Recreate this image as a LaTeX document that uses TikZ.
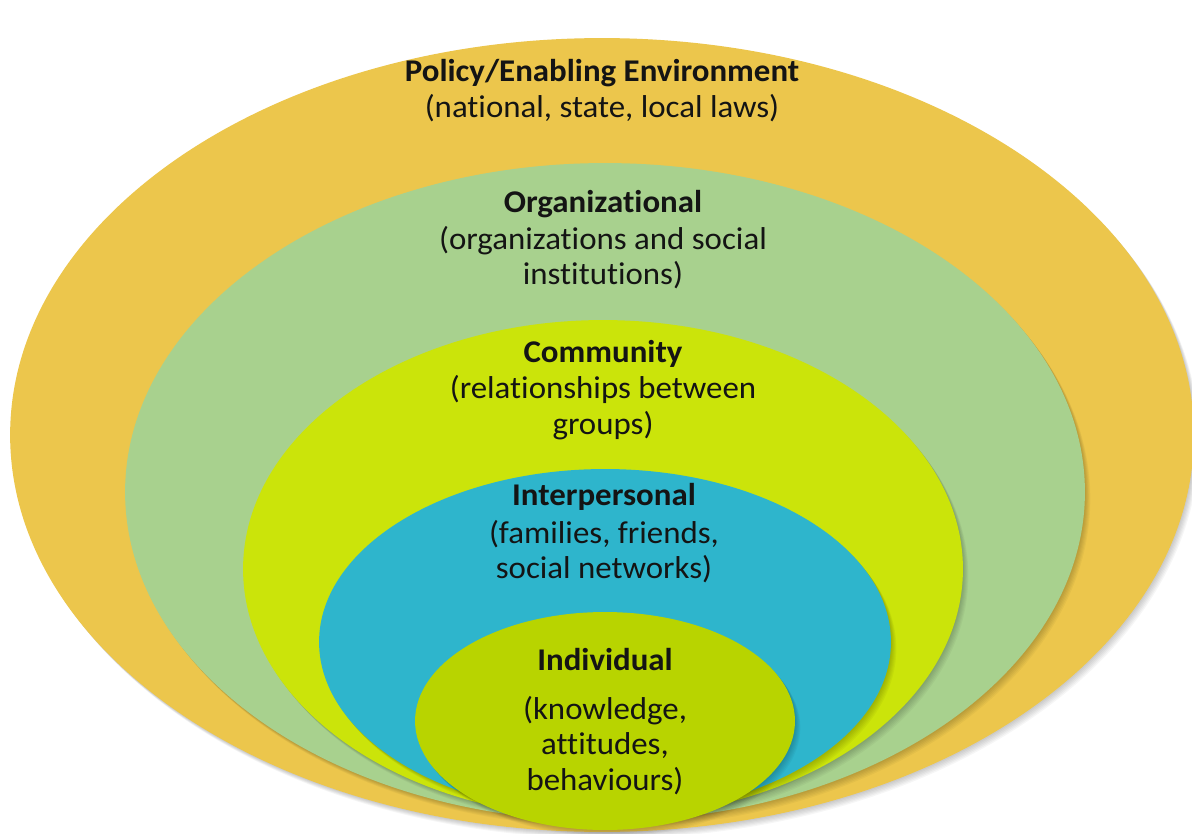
\documentclass[tikz,border=0pt]{standalone}
\usepackage{fontspec}
\setmainfont{Carlito}[FakeStretch=1.04,Ligatures=NoCommon]
\usetikzlibrary{calc}
\definecolor{cPolicy}{RGB}{236,198,76}
\definecolor{cOrg}{RGB}{168,209,142}
\definecolor{cComm}{RGB}{203,228,10}
\definecolor{cInter}{RGB}{46,181,204}
\definecolor{cIndiv}{RGB}{184,212,0}
\definecolor{cText}{RGB}{20,20,20}
\begin{document}
\begin{tikzpicture}[x=0.02cm,y=-0.02cm,
  lbl/.style={align=center,text=cText,font=\fontsize{18}{20.2}\selectfont,inner sep=0pt},
  ttl/.style={lbl,font=\fontsize{18}{20.2}\selectfont\bfseries}]
\useasboundingbox (0,0) rectangle (1192,834);
\fill[white] (0,0) rectangle (1192,834);
% layer macro: shadow then fill
\newcommand{\layer}[4]{%
  \foreach \s in {1,...,6}{\fill[black,opacity=0.035] ($#1+(\s*0.9,\s*1.1)$) ellipse [x radius=#2, y radius=#3];}
  \fill[#4] #1 ellipse [x radius=#2, y radius=#3];}
\layer{(602,435)}{11.84cm}{7.94cm}{cPolicy}
\layer{(605,492)}{9.6cm}{6.58cm}{cOrg}
\layer{(603,569)}{7.2cm}{4.98cm}{cComm}
\layer{(605,642)}{5.72cm}{3.46cm}{cInter}
\layer{(605,721)}{3.8cm}{2.18cm}{cIndiv}
% texts
\node[ttl] (tPolicy) at (602,73) {Policy/Enabling Environment};
\node[lbl] (dPolicy) at (602,108) {(national, state, local laws)};
\node[ttl] (tOrg) at (603,204) {Organizational};
\node[lbl] (dOrg) at (603,257.5) {(organizations and social\\institutions)};
\node[ttl] (tComm) at (603,354) {Community};
\node[lbl] (dComm) at (603,407.5) {(relationships between\\groups)};
\node[ttl] (tInter) at (604,497) {Interpersonal};
\node[lbl] (dInter) at (604,551.5) {(families, friends,\\social networks)};
\node[ttl] (tIndiv) at (605,660) {Individual};
\node[lbl] (dIndiv) at (605,745.5) {(knowledge,\\attitudes,\\behaviours)};
\end{tikzpicture}
\end{document}
